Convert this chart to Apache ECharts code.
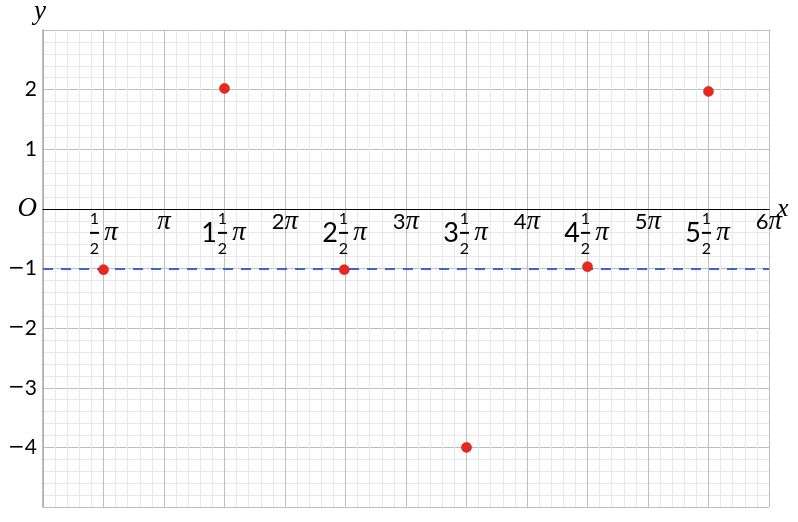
<!DOCTYPE html>
<html>
<head>
<meta charset="utf-8">
<script src="https://cdn.jsdelivr.net/npm/echarts@6/dist/echarts.min.js"></script>
<style>
  html, body { margin: 0; padding: 0; background: #fff; }
  #chart { width: 798px; height: 522px; }
</style>
</head>
<body>
<div id="chart"></div>
<script>
// point positions: x in multiples of pi, y
var pointXPi = [0.5, 1.5, 2.49, 3.5, 4.5, 5.5];
var pointY = [-1.02, 2.02, -1.02, -4.0, -0.97, 1.97];
var dashedY = -1;

// tick labels, one per half pi from 0 to 6 pi ('n h' = whole n + one half)
var xTickLabels = ['', ' h', 'π', '1 h', '2π', '2 h', '3π', '3 h', '4π', '4 h', '5π', '5 h', '6π'];
var yTickValues = [-4, -3, -2, -1, 0, 1, 2];
var yTickLabels = ['−4', '−3', '−2', '−1', 'O', '1', '2'];

var HALF_PI = Math.PI / 2;
var digitFont = 'Lato, "Open Sans", sans-serif';
var mathFont = '"Liberation Serif", "DejaVu Serif", serif';

function xLabel(v) {
  var i = Math.round(v / HALF_PI);
  var s = xTickLabels[i];
  if (!s) return '';
  if (s.indexOf('h') < 0) {
    // plain n·pi label
    var n = s.replace('π', '');
    return '{sn|' + n + '}{sp|π}';
  }
  var whole = s.split(' ')[0];
  var w = whole ? '{wh|' + whole + '}' : '';
  var ws = whole ? '{wsp|}' : '';
  return ws + '{ga|}{fa|1}{gb|}{psp|}\n' +
         w + '{ga|}{bar|}{gb|}{pi|π}\n' +
         ws + '{ga|}{fb|2}{gb|}{psp|}';
}

function yLabel(v) {
  var i = yTickValues.indexOf(Math.round(v));
  if (i < 0) return '';
  var s = yTickLabels[i];
  if (s === 'O') return '{o|O}';
  if (s.charAt(0) === '−') return '{m|−}{d|' + s.slice(1) + '}';
  return '{d|' + s + '}';
}

var chart = echarts.init(document.getElementById('chart'));

var option = {
  animation: false,
  grid: { left: 43, right: 29, top: 30, bottom: 15, containLabel: false, outerBoundsMode: 'none' },
  xAxis: {
    type: 'value',
    min: 0,
    max: 6 * Math.PI,
    interval: HALF_PI,
    position: 'bottom',
    offset: 0,
    name: 'x',
    nameLocation: 'end',
    nameGap: 8,
    nameMoveOverlap: false,
    nameTextStyle: { fontFamily: mathFont, fontStyle: 'italic', fontSize: 26, color: '#000', verticalAlign: 'middle', padding: [0, 0, 7, 0] },
    axisLine: { onZero: false, lineStyle: { color: '#000', width: 1 } },
    axisTick: { show: false },
    splitLine: { show: true, lineStyle: { color: '#bdbdc3', width: 1 } },
    minorTick: { show: false, splitNumber: 5 },
    minorSplitLine: { show: true, lineStyle: { color: '#e8e8ea', width: 1 } },
    axisLabel: {
      margin: 2,
      color: '#000',
      formatter: xLabel,
      rich: {
        sn: { fontFamily: digitFont, fontSize: 22, lineHeight: 22, color: '#000' },
        sp: { fontFamily: mathFont, fontStyle: 'italic', fontSize: 27, lineHeight: 22, color: '#000' },
        wh: { fontFamily: digitFont, fontSize: 27, width: 14, align: 'center', lineHeight: 6, color: '#000' },
        wsp: { width: 14 },
        ga: { width: 2 },
        gb: { width: 4 },
        fa: { fontFamily: digitFont, fontSize: 16, width: 9, align: 'center', lineHeight: 16, color: '#000' },
        fb: { fontFamily: digitFont, fontSize: 16, width: 9, align: 'center', lineHeight: 19, color: '#000' },
        bar: { width: 9, height: 2, backgroundColor: '#000', lineHeight: 6 },
        pi: { fontFamily: mathFont, fontStyle: 'italic', fontSize: 27, width: 16, align: 'center', lineHeight: 6, color: '#000' },
        psp: { width: 16 }
      }
    }
  },
  yAxis: {
    type: 'value',
    min: -5,
    max: 3,
    interval: 1,
    name: 'y',
    nameLocation: 'end',
    nameGap: 5,
    nameTextStyle: { fontFamily: mathFont, fontStyle: 'italic', fontSize: 27, color: '#000', align: 'center', padding: [0, 6, 0, 0] },
    axisLine: { show: true, onZero: false, lineStyle: { color: '#a8a8ac', width: 1.5 } },
    axisTick: { show: false },
    splitLine: { show: true, lineStyle: { color: '#bdbdc3', width: 1 } },
    minorTick: { show: false, splitNumber: 5 },
    minorSplitLine: { show: true, lineStyle: { color: '#e8e8ea', width: 1 } },
    axisLabel: {
      margin: 6,
      color: '#000',
      formatter: yLabel,
      rich: {
        d: { fontFamily: digitFont, fontSize: 21, color: '#000' },
        m: { fontFamily: '"DejaVu Sans", sans-serif', fontSize: 20, color: '#000' },
        o: { fontFamily: mathFont, fontStyle: 'italic', fontSize: 27, color: '#000' }
      }
    }
  },
  series: [{
    type: 'scatter',
    symbolSize: 10,
    itemStyle: { color: '#e8281e', borderColor: '#c8231b', borderWidth: 0.6, opacity: 1 },
    data: pointXPi.map(function (p, i) { return [p * Math.PI, pointY[i]]; }),
    z: 5,
    markLine: {
      silent: true,
      symbol: 'none',
      label: { show: false },
      lineStyle: { color: '#3d62dc', type: [10, 8], width: 2 },
      data: [{ yAxis: dashedY }]
    }
  }]
};

chart.setOption(option);

// move the x axis (line and labels) up to y = 0
var zeroY = chart.convertToPixel({ yAxisIndex: 0 }, 0);
var bottomY = chart.convertToPixel({ yAxisIndex: 0 }, -5);
chart.setOption({ xAxis: { offset: zeroY - bottomY } });
</script>
</body>
</html>
